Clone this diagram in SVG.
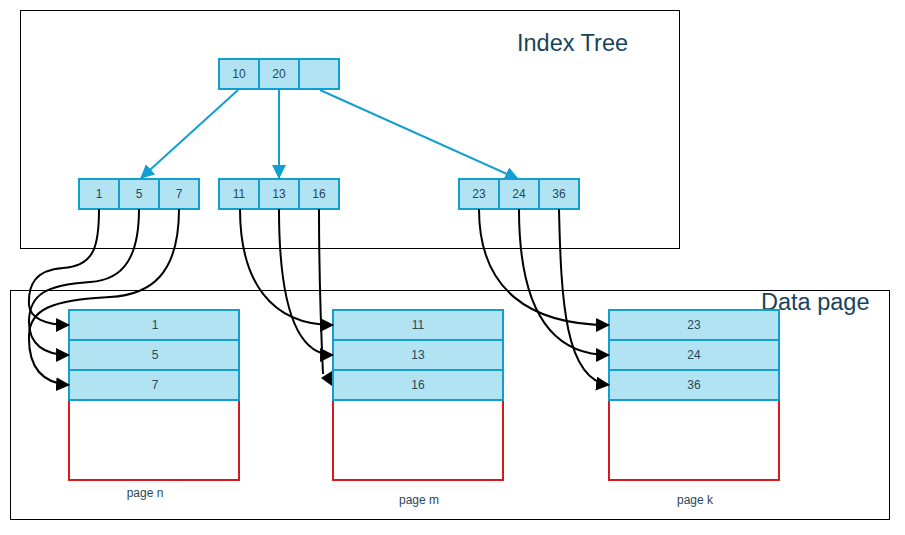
<svg xmlns="http://www.w3.org/2000/svg" width="905" height="535" viewBox="0 0 905 535">
<style>
.frame{fill:none;stroke:#000;stroke-width:1}
.cell{fill:#b1e3f3;stroke:#119fd2;stroke-width:2}
.page{fill:#fff;stroke:#d71920;stroke-width:2}
.t{font-family:"Liberation Sans",Arial,sans-serif;font-size:12px;fill:#29485a;text-anchor:middle}
.title{font-family:"Liberation Sans",Arial,sans-serif;font-size:23.5px;fill:#17445c}
.pl{font-family:"Liberation Sans",Arial,sans-serif;font-size:12px;fill:#29485a;text-anchor:middle}
.blue{fill:none;stroke:#119fd2;stroke-width:2}
.black{fill:none;stroke:#000;stroke-width:2}
</style>
<defs>
<marker id="ab" markerUnits="userSpaceOnUse" markerWidth="14" markerHeight="14" refX="12" refY="6.5" orient="auto" viewBox="0 0 13 13">
<path d="M0,0 L13,6.5 L0,13 Z" fill="#119fd2"/>
</marker>
<marker id="ak" markerUnits="userSpaceOnUse" markerWidth="14" markerHeight="14" refX="12" refY="6.5" orient="auto" viewBox="0 0 13 13">
<path d="M0,0 L13,6.5 L0,13 Z" fill="#000"/>
</marker>
</defs>
<rect x="0" y="0" width="905" height="535" fill="#fff"/>
<g id="index-tree-frame">
<rect class="frame" x="20.5" y="10.5" width="659" height="238"/>
<text class="title" x="517" y="51">Index Tree</text>
</g>
<g id="data-page-frame">
<rect class="frame" x="10.5" y="290.5" width="879" height="229"/>
<text class="title" x="761" y="310">Data page</text>
</g>
<g id="root">
<rect class="cell" x="219" y="59" width="40" height="30"/>
<rect class="cell" x="259" y="59" width="40" height="30"/>
<rect class="cell" x="299" y="59" width="40" height="30"/>
<text class="t" x="239" y="78">10</text>
<text class="t" x="279" y="78">20</text>
</g>
<g id="node-left">
<rect class="cell" x="79" y="179" width="40" height="30"/>
<rect class="cell" x="119" y="179" width="40" height="30"/>
<rect class="cell" x="159" y="179" width="40" height="30"/>
<text class="t" x="99" y="198">1</text>
<text class="t" x="139" y="198">5</text>
<text class="t" x="179" y="198">7</text>
</g>
<g id="node-mid">
<rect class="cell" x="219" y="179" width="40" height="30"/>
<rect class="cell" x="259" y="179" width="40" height="30"/>
<rect class="cell" x="299" y="179" width="40" height="30"/>
<text class="t" x="239" y="198">11</text>
<text class="t" x="279" y="198">13</text>
<text class="t" x="319" y="198">16</text>
</g>
<g id="node-right">
<rect class="cell" x="459" y="179" width="40" height="30"/>
<rect class="cell" x="499" y="179" width="40" height="30"/>
<rect class="cell" x="539" y="179" width="40" height="30"/>
<text class="t" x="479" y="198">23</text>
<text class="t" x="519" y="198">24</text>
<text class="t" x="559" y="198">36</text>
</g>
<g id="page-n">
<rect class="page" x="69" y="400" width="170" height="80"/>
<rect class="cell" x="69" y="310" width="170" height="30"/>
<rect class="cell" x="69" y="340" width="170" height="30"/>
<rect class="cell" x="69" y="370" width="170" height="30"/>
<text class="t" x="155" y="329">1</text>
<text class="t" x="155" y="359">5</text>
<text class="t" x="155" y="389">7</text>
<text class="pl" x="145" y="497">page n</text>
</g>
<g id="page-m">
<rect class="page" x="333" y="400" width="170" height="80"/>
<rect class="cell" x="333" y="310" width="170" height="30"/>
<rect class="cell" x="333" y="340" width="170" height="30"/>
<rect class="cell" x="333" y="370" width="170" height="30"/>
<text class="t" x="418" y="329">11</text>
<text class="t" x="418" y="359">13</text>
<text class="t" x="418" y="389">16</text>
<text class="pl" x="419" y="504">page m</text>
</g>
<g id="page-k">
<rect class="page" x="609" y="400" width="170" height="80"/>
<rect class="cell" x="609" y="310" width="170" height="30"/>
<rect class="cell" x="609" y="340" width="170" height="30"/>
<rect class="cell" x="609" y="370" width="170" height="30"/>
<text class="t" x="694" y="329">23</text>
<text class="t" x="694" y="359">24</text>
<text class="t" x="694" y="389">36</text>
<text class="pl" x="695" y="504">page k</text>
</g>
<g id="connectors">
<path class="blue" d="M238,90 L141,178" marker-end="url(#ab)"/>
<path class="blue" d="M279,90 L279,178" marker-end="url(#ab)"/>
<path class="blue" d="M320,90 L518,179" marker-end="url(#ab)"/>
<path class="black" d="M99,209 C99,245 95,266 63,268 C35,270 28,285 29,305 C30,318 45,325 69,325" marker-end="url(#ak)"/>
<path class="black" d="M139,209 C139,255 125,280 90,282 C45,285 30,295 29,320 C28,345 45,355 69,355" marker-end="url(#ak)"/>
<path class="black" d="M179,209 C179,275 150,295 110,297 C50,300 30,310 29,335 C28,365 40,383 69,385" marker-end="url(#ak)"/>
<path class="black" d="M240,209 C240,280 270,325 333,325" marker-end="url(#ak)"/>
<path class="black" d="M279,209 C279,300 295,355 333,355" marker-end="url(#ak)"/>
<path class="black" d="M319,209 C319,280 321,330 323,374"/>
<polygon points="332,371 332,386 321,378" fill="#000"/>
<path class="black" d="M479,209 C479,290 530,325 609,325" marker-end="url(#ak)"/>
<path class="black" d="M519,209 C519,300 545,355 609,355" marker-end="url(#ak)"/>
<path class="black" d="M559,209 C561,300 565,380 609,385" marker-end="url(#ak)"/>
</g>
</svg>
